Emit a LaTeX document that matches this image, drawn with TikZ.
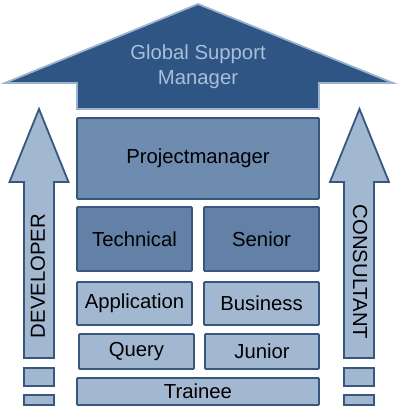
\documentclass[tikz,border=0pt]{standalone}
\usepackage{fontspec}
\setmainfont{Liberation Sans}
\definecolor{roofc}{HTML}{2E5583}
\definecolor{roofedge}{HTML}{9BB3CF}
\definecolor{roofText}{HTML}{A9BFDA}
\definecolor{pmc}{HTML}{6E8BB0}
\definecolor{midc}{HTML}{6381A7}
\definecolor{lightc}{HTML}{A2B7D0}
\definecolor{edgec}{HTML}{37577F}
\begin{document}
\begin{tikzpicture}[x=1pt,y=-1pt,
  lvl/.style={draw=edgec,line width=1.8pt,rounded corners=1pt,inner sep=0pt,
    font=\fontsize{20.3}{24}\selectfont,text=black},
  light/.style={lvl,fill=lightc},
  mid/.style={lvl,fill=midc},
  pmbox/.style={lvl,fill=pmc},
  arrowbody/.style={draw=edgec,line width=1.8pt,fill=lightc,line join=miter},
  vlabel/.style={font=\fontsize{20.3}{24}\selectfont,text=black,inner sep=0pt}]
\useasboundingbox (0,0) rectangle (400,417);
% roof
\draw[fill=roofc,draw=roofedge,line width=1.8pt,line join=miter]
  (5,83) -- (198,4) -- (393,83) -- (319,83) -- (319,109) -- (77,109) -- (77,83) -- cycle;
\node[font=\fontsize{20.3}{25.5}\selectfont,text=roofText,align=center] (gsm) at (198,67)
  {Global Support\\Manager};
% levels
\node[pmbox,minimum width=242pt,minimum height=81pt] (pm) at (198,158.5) {Projectmanager};
\node[mid,minimum width=115pt,minimum height=64pt] (tech) at (134.5,239) {Technical};
\node[mid,minimum width=115pt,minimum height=64pt] (senior) at (261.5,239) {Senior};
\node[light,minimum width=115pt,minimum height=43pt] (app) at (134.5,303.5) {Application};
\node[light,minimum width=115pt,minimum height=43pt] (bus) at (261.5,303.5) {Business};
\node[light,minimum width=115pt,minimum height=35pt] (query) at (136.5,351.5) {Query};
\node[light,minimum width=114pt,minimum height=35pt] (junior) at (262,351.5) {Junior};
\node[light,minimum width=242pt,minimum height=27pt] (trainee) at (198,391.5) {Trainee};
% left arrow
\draw[arrowbody] (24,358) -- (24,182) -- (9.5,182) -- (39,109) -- (68.5,182) -- (54,182) -- (54,358) -- cycle;
\draw[arrowbody] (24,368) rectangle (54,386);
\draw[arrowbody] (24,395) rectangle (54,405);
\node[vlabel,rotate=90] (dev) at (38,276) {DEVELOPER};
% right arrow
\draw[arrowbody] (344,358) -- (344,182) -- (330,182) -- (359.5,109) -- (389,182) -- (374,182) -- (374,358) -- cycle;
\draw[arrowbody] (344,368) rectangle (374,386);
\draw[arrowbody] (344,395) rectangle (374,405);
\node[vlabel,rotate=-90] (cons) at (360,272) {CONSULTANT};
\end{tikzpicture}
\end{document}
